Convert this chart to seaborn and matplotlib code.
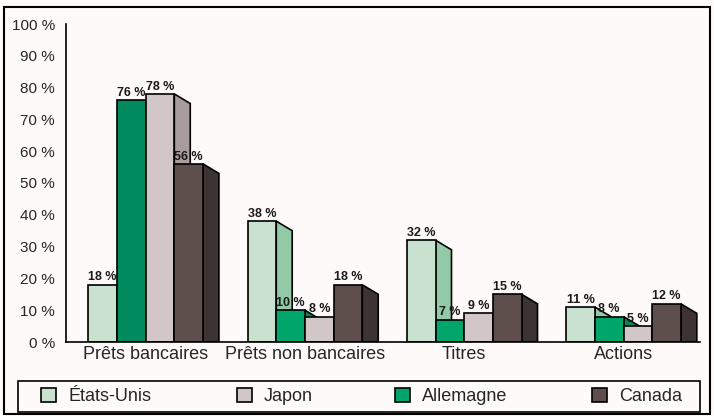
import matplotlib
matplotlib.use('Agg')
import matplotlib.pyplot as plt
from matplotlib.patches import Patch, Polygon, Rectangle
import seaborn as sns
import pandas as pd

# Data
categories = ['Prêts bancaires', 'Prêts non bancaires', 'Titres', 'Actions']
pays = ['États-Unis', 'Allemagne', 'Japon', 'Canada']
etats_unis = [18, 38, 32, 11]
allemagne = [76, 10, 7, 8]
japon = [78, 8, 9, 5]
canada = [56, 18, 15, 12]
legend_order = ['États-Unis', 'Japon', 'Allemagne', 'Canada']
y_ticks = [0, 10, 20, 30, 40, 50, 60, 70, 80, 90, 100]

front = {'États-Unis': '#c8e2cf', 'Allemagne': '#00a56b', 'Japon': '#d2c6c6', 'Canada': '#5e4f4d'}
side = {'États-Unis': '#92caa8', 'Allemagne': '#008a58', 'Japon': '#a89c9d', 'Canada': '#3d3333'}

rows = []
for p, vals in zip(pays, [etats_unis, allemagne, japon, canada]):
    for c, v in zip(categories, vals):
        rows.append({'categorie': c, 'pays': p, 'valeur': v})
df = pd.DataFrame(rows)

sns.set_style('white')
plt.rcParams['font.family'] = ['Liberation Sans', 'DejaVu Sans']

fig = plt.figure(figsize=(7.14, 4.16), dpi=100, facecolor='#fffafa')
ax = fig.add_axes([66/714, 74/416, (700-66)/714, (342-24)/416])
ax.set_facecolor('#fffafa')

sns.barplot(data=df, x='categorie', y='valeur', hue='pays', order=categories,
            hue_order=pays, palette=front, width=0.72, edgecolor='black',
            linewidth=1.2, saturation=1, legend=False, ax=ax)

# fake 3D side faces
dx, dy = 0.1, 3.0
for cont, p, vals in zip(ax.containers, pays, [etats_unis, allemagne, japon, canada]):
    for bar in cont:
        bar.set_zorder(2)
        x = bar.get_x() + bar.get_width()
        h = bar.get_height()
        poly = Polygon([(x, h), (x + dx, max(h - dy, 0)), (x + dx, 0), (x, 0)],
                       closed=True, facecolor=side[p], edgecolor='black',
                       linewidth=1.2, zorder=1)
        ax.add_patch(poly)
    ax.bar_label(cont, labels=[f'{v} %' for v in vals], padding=1,
                 fontsize=9, fontweight='bold', color='#1a1a1a', zorder=3)

# darker green on the first Allemagne bar, as in the source
ax.containers[1][0].set_facecolor('#008b5f')

ax.set_ylim(0, 100)
ax.set_xlim(-0.5, 3.48)
ax.set_yticks(y_ticks)
ax.set_yticklabels([f'{t} %' for t in y_ticks], fontsize=11)
ax.tick_params(axis='y', direction='out', length=5, width=1.2, color='black', pad=3)
ax.tick_params(axis='x', length=0, labelsize=13, pad=3)
ax.set_xlabel('')
ax.set_ylabel('')
sns.despine(ax=ax)
for s in ['left', 'bottom']:
    ax.spines[s].set_linewidth(1.2)
    ax.spines[s].set_color('black')

# legend: one entry per slot, inside a drawn box
leg_x = [41, 237, 395, 592]
for p, lx in zip(legend_order, leg_x):
    h = Patch(facecolor=front[p], edgecolor='black', linewidth=1.2, label=p)
    lg = fig.legend(handles=[h], loc='center left', bbox_to_anchor=(lx/714, 19.5/416),
                    frameon=False, fontsize=13, borderpad=0, borderaxespad=0,
                    handlelength=0.85, handleheight=0.85, handletextpad=0.65)
fig.patches.append(Rectangle((18/714, 4/416), 682/714, 31/416, transform=fig.transFigure,
                             fill=False, edgecolor='black', linewidth=1.2))

fig.patches.append(Rectangle((4/714, 2/416), 706/714, 407/416, transform=fig.transFigure,
                             fill=False, edgecolor='black', linewidth=1.5))

fig.savefig('out.png', dpi=100, facecolor=fig.get_facecolor())
